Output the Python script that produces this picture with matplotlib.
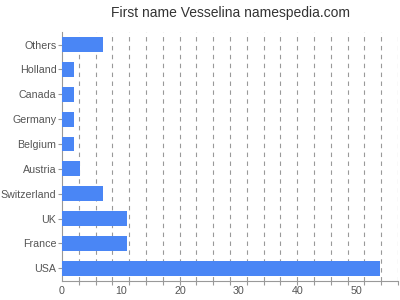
import numpy as np
import matplotlib
matplotlib.use("Agg")
import matplotlib.pyplot as plt
from matplotlib.ticker import MultipleLocator

plt.rcParams['font.family'] = ['Liberation Sans', 'DejaVu Sans']

# data (top to bottom as shown in the chart)
countries = ["Others", "Holland", "Canada", "Germany", "Belgium",
             "Austria", "Switzerland", "UK", "France", "USA"]
counts = [7, 2, 2, 2, 2, 3, 7, 11, 11, 54]
x_ticks = [0, 10, 20, 30, 40, 50]

fig = plt.figure(figsize=(4, 3), dpi=100)
ax = fig.add_axes([0.155, 0.064, 0.84, 0.829])

y = np.arange(len(countries))[::-1]
ax.barh(y, counts, height=0.6, color="#4a86f5", zorder=3)

ax.set_xlim(0, 57)
ax.set_ylim(-0.5, len(countries) - 0.5)

ax.set_yticks(y)
ax.set_yticklabels(countries)
ax.set_xticks(x_ticks)
ax.xaxis.set_minor_locator(MultipleLocator(57 / 20))

ax.tick_params(axis="y", length=3, color="#999999", labelcolor="#555555",
               labelsize=7.7, pad=1, width=0.8)
ax.tick_params(axis="x", which="major", length=0, labelcolor="#555555",
               labelsize=7.7, pad=4)
ax.tick_params(axis="x", which="minor", length=3, color="#999999", width=0.8)

ax.grid(axis="x", which="minor", color="#999999", linestyle=(0, (4, 4)),
        linewidth=0.8, zorder=0)

for side in ["top", "right"]:
    ax.spines[side].set_visible(False)
for side in ["left", "bottom"]:
    ax.spines[side].set_color("#999999")
    ax.spines[side].set_linewidth(0.8)

fig.text(0.576, 0.955, "First name Vesselina namespedia.com", ha="center",
         va="center", fontsize=10, color="#333333")

fig.savefig("out.png", dpi=100, facecolor="white")
